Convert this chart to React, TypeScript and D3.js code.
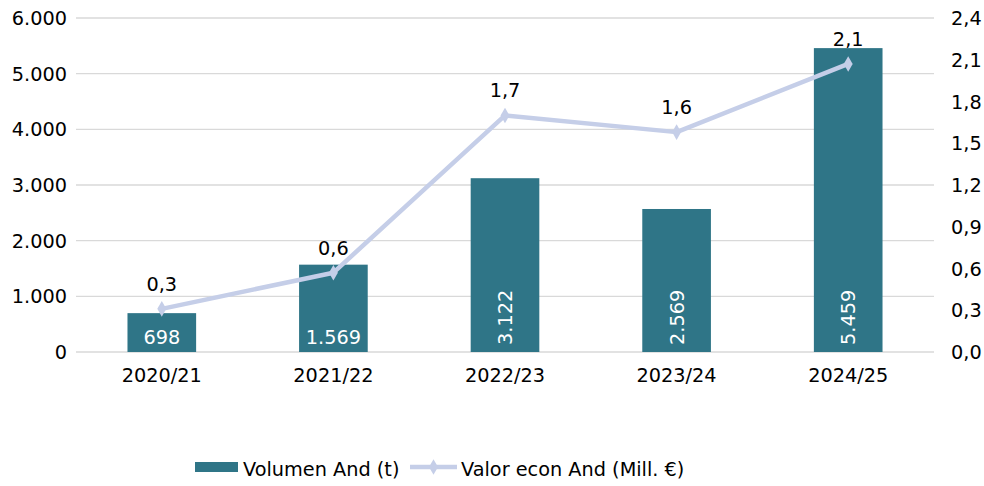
import React, { useEffect, useRef } from 'react';
import * as d3 from 'd3';

const campaigns = ['2020/21', '2021/22', '2022/23', '2023/24', '2024/25'];
const volumen = [698, 1569, 3122, 2569, 5459];
const valor = [0.31, 0.57, 1.7, 1.58, 2.07];
const valorLabels = ['0,3', '0,6', '1,7', '1,6', '2,1'];
const leftTicks = [0, 1000, 2000, 3000, 4000, 5000, 6000];
const rightTicks = [0, 0.3, 0.6, 0.9, 1.2, 1.5, 1.8, 2.1, 2.4];

const fmtThousands = (v: number) => {
  const s = String(Math.round(v));
  return s.replace(/\B(?=(\d{3})+(?!\d))/g, '.');
};

export default function App() {
  const ref = useRef<SVGSVGElement>(null);

  useEffect(() => {
    const svg = d3.select(ref.current);
    svg.selectAll('*').remove();

    const left = 76, right = 934, top = 18, bottom = 352;
    const font = 'DejaVu Sans, sans-serif';
    const fs = '19.3px';

    const x = d3.scaleBand().domain(campaigns).range([left, right]).paddingInner(0.6).paddingOuter(0.3);
    const yL = d3.scaleLinear().domain([0, 6000]).range([bottom, top]);
    const yR = d3.scaleLinear().domain([0, 2.4]).range([bottom, top]);

    const g = svg.append('g');

    // grid
    g.selectAll('.grid').data(leftTicks).join('line')
      .attr('x1', left).attr('x2', right)
      .attr('y1', d => yL(d)).attr('y2', d => yL(d))
      .attr('stroke', '#d9d9d9').attr('stroke-width', 1.3);

    // left axis labels
    g.selectAll('.ltick').data(leftTicks).join('text')
      .attr('x', 67).attr('y', d => yL(d) + 7)
      .attr('text-anchor', 'end')
      .style('font-family', font).style('font-size', fs).attr('fill', '#000')
      .text(d => fmtThousands(d));

    // right axis labels
    g.selectAll('.rtick').data(rightTicks).join('text')
      .attr('x', 951).attr('y', d => yR(d) + 7)
      .attr('text-anchor', 'start')
      .style('font-family', font).style('font-size', fs).attr('fill', '#000')
      .text(d => d.toFixed(1).replace('.', ','));

    // category labels
    g.selectAll('.cat').data(campaigns).join('text')
      .attr('x', d => x(d)! + x.bandwidth() / 2).attr('y', 382)
      .attr('text-anchor', 'middle')
      .style('font-family', font).style('font-size', fs).attr('fill', '#000')
      .text(d => d);

    // bars
    g.selectAll('.bar').data(volumen).join('rect')
      .attr('x', (d, i) => x(campaigns[i])!)
      .attr('width', x.bandwidth())
      .attr('y', d => yL(d))
      .attr('height', d => bottom - yL(d))
      .attr('fill', '#2f7587');

    // bar labels
    volumen.forEach((v, i) => {
      const cx = x(campaigns[i])! + x.bandwidth() / 2;
      const t = g.append('text')
        .style('font-family', font).style('font-size', fs).attr('fill', '#fff')
        .text(fmtThousands(v));
      if (i < 2) {
        t.attr('x', cx).attr('y', 344).attr('text-anchor', 'middle');
      } else {
        t.attr('transform', `translate(${cx + 7},${345}) rotate(-90)`).attr('text-anchor', 'start');
      }
    });

    // line
    const line = d3.line<number>()
      .x((d, i) => x(campaigns[i])! + x.bandwidth() / 2)
      .y(d => yR(d));
    g.append('path').datum(valor)
      .attr('d', line)
      .attr('fill', 'none').attr('stroke', '#c5cee8').attr('stroke-width', 4.5)
      .attr('stroke-linejoin', 'round');

    const diamond = d3.symbol().type(d3.symbolDiamond).size(70);
    g.selectAll('.mk').data(valor).join('path')
      .attr('d', diamond)
      .attr('transform', (d, i) => `translate(${x(campaigns[i])! + x.bandwidth() / 2},${yR(d)})`)
      .attr('fill', '#c5cee8');

    g.selectAll('.vl').data(valor).join('text')
      .attr('x', (d, i) => x(campaigns[i])! + x.bandwidth() / 2)
      .attr('y', d => yR(d) - 18)
      .attr('text-anchor', 'middle')
      .style('font-family', font).style('font-size', fs).attr('fill', '#000')
      .text((d, i) => valorLabels[i]);

    // legend
    const lg = svg.append('g');
    lg.append('rect').attr('x', 195).attr('y', 462).attr('width', 43).attr('height', 10).attr('fill', '#2f7587');
    lg.append('text').attr('x', 243).attr('y', 476)
      .style('font-family', font).style('font-size', fs).attr('fill', '#000')
      .text('Volumen And (t)');
    lg.append('line').attr('x1', 410).attr('x2', 457).attr('y1', 467).attr('y2', 467)
      .attr('stroke', '#c5cee8').attr('stroke-width', 4.5);
    lg.append('path').attr('d', diamond).attr('transform', 'translate(433.5,467)').attr('fill', '#c5cee8');
    lg.append('text').attr('x', 461).attr('y', 476)
      .style('font-family', font).style('font-size', fs).attr('fill', '#000')
      .text('Valor econ And (Mill. €)');
  }, []);

  return (
    <svg ref={ref} width={984} height={486}
      style={{ position: 'absolute', left: 0, top: 0, background: '#fff' }} />
  );
}
